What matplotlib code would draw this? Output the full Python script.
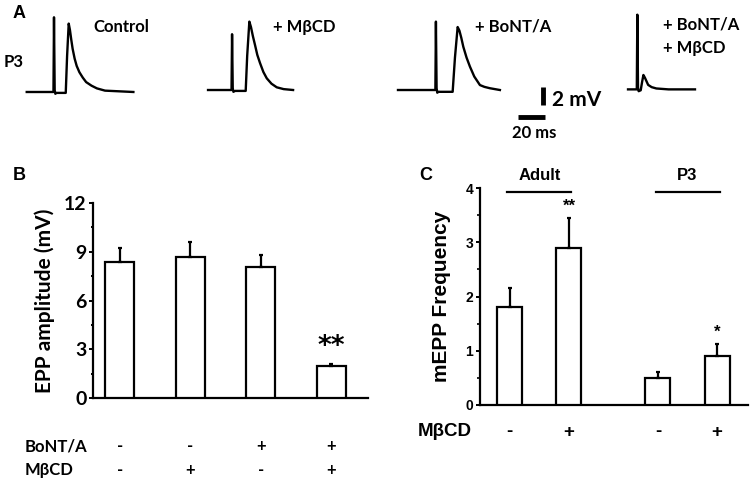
import numpy as np
import matplotlib
matplotlib.use('Agg')
import matplotlib.pyplot as plt
from matplotlib import transforms

# ---- panel A: representative EPP traces (time ms, voltage mV)
trace_names = ['Control', '+ M\u03b2CD', '+ BoNT/A', '+ BoNT/A\n+ M\u03b2CD']
ctrl_t = [0, 19.8, 20.2, 20.7, 21.2, 22, 28.9, 29.9, 31.1, 32, 33, 34, 35.5, 37, 39, 41.5, 44, 48, 52, 58, 79]
ctrl_v = [0, 0, 8.3, 0.2, -0.2, -0.1, -0.1, 4.0, 7.6, 6.9, 5.8, 4.8, 3.7, 2.9, 2.2, 1.6, 1.1, 0.7, 0.4, 0.15, 0]
mbcd_t = [0, 17.4, 17.8, 18.3, 18.8, 20, 27.9, 29.0, 30.6, 31.8, 33.2, 34.8, 36.5, 38.5, 41, 43.5, 47, 50.9, 56, 63]
mbcd_v = [0, 0, 6.2, 0.2, -0.2, -0.1, -0.1, 3.8, 7.6, 7.0, 6.0, 5.0, 3.9, 3.0, 2.0, 1.3, 0.7, 0.3, 0.1, 0]
bont_t = [0, 27.7, 28.1, 28.6, 29.1, 30, 40.5, 42.2, 44.2, 45.5, 46.9, 48.4, 50.8, 53.3, 56.5, 60.7, 64, 68, 75.5]
bont_v = [0, 0, 7.6, 0.2, -0.3, -0.2, -0.2, 3.6, 7.0, 6.6, 5.8, 4.8, 3.6, 2.6, 1.5, 0.55, 0.35, 0.2, 0]
both_t = [0, 6.5, 6.9, 7.4, 7.9, 9.4, 10.4, 11.4, 12.5, 13.7, 14.9, 17.5, 21, 30, 49.6]
both_v = [0, 0, 8.3, 0.2, -0.2, -0.1, 0.8, 1.6, 1.3, 0.9, 0.5, 0.25, 0.1, 0, 0]

# ---- panel B: EPP amplitude
epp_mean = [8.4, 8.7, 8.05, 2.0]
epp_err = [0.85, 0.9, 0.75, 0.12]
bont_signs = ['-', '-', '+', '+']
mbcd_signs_b = ['-', '+', '-', '+']

# ---- panel C: mEPP frequency
groups = ['Adult', 'P3']
freq_mean = [1.8, 2.9, 0.5, 0.9]
freq_err = [0.35, 0.55, 0.11, 0.22]
mbcd_signs_c = ['-', '+', '-', '+']
stars_c = ['', '**', '', '*']

W, H = 750, 482
fig = plt.figure(figsize=(W / 100, H / 100), dpi=100)


def box(l, t, r, b):
    return [l / W, 1 - b / H, (r - l) / W, (b - t) / H]


def fx(x):
    return x / W


def fy(y):
    return 1 - y / H


calib = ['Lato', 'DejaVu Sans']
arial = ['Liberation Sans', 'DejaVu Sans']

# ================= panel A =================
axA = fig.add_axes(box(0, 0, 750, 150))
axA.set_xlim(0, W / 1.35)
axA.set_ylim(-(150 - 91) / 9, 91 / 9)
axA.axis('off')
traces = [(ctrl_t, ctrl_v), (mbcd_t, mbcd_v), (bont_t, bont_v), (both_t, both_v)]
starts = [19.8, 154.1, 294.8, 465.2]
base = [-0.11, 0.11, 0.11, 0.18]
for (t, v), s, b in zip(traces, starts, base):
    axA.plot(np.array(t) + s, np.array(v) + b, color='black', lw=1.7, solid_joinstyle='round')

# scale bar: 2 mV, 20 ms
axA.plot([402.2, 402.2], [0.44, -1.56], color='black', lw=3.5, solid_capstyle='butt')
axA.plot([383.7, 403.7], [-2.89, -2.89], color='black', lw=3.5, solid_capstyle='butt')
fig.text(fx(552), fy(100), '2 mV', fontsize=15, fontweight='bold', family=calib, va='center')
fig.text(fx(534), fy(133), '20 ms', fontsize=12, fontweight='bold', family=calib, ha='center', va='center')

fig.text(fx(13), fy(13), 'A', fontsize=13, fontweight='bold', family=arial, va='center')
fig.text(fx(4), fy(62), 'P3', fontsize=12, fontweight='bold', family=calib, va='center')
label_pos = [(93, 27), (273, 27), (475, 27), (663, 27)]
for name, (x, y) in zip(trace_names, label_pos):
    if '\n' in name:
        fig.text(fx(x), fy(y - 10), name, fontsize=12, fontweight='bold', family=calib,
                 va='top', linespacing=1.55)
    else:
        fig.text(fx(x), fy(y), name, fontsize=12, fontweight='bold', family=calib, va='center')

# ================= panel B =================
axB = fig.add_axes(box(93, 203, 368, 398))
xb = np.arange(1, 5)
axB.bar(xb, epp_mean, width=0.41, color='white', edgecolor='black', linewidth=1.6,
        yerr=[[0] * 4, epp_err], error_kw=dict(ecolor='black', elinewidth=1.6, capsize=1.5, capthick=1.6),
        zorder=3)
axB.set_xlim(0.62, 4.52)
axB.set_ylim(0, 12)
axB.set_yticks([0, 3, 6, 9, 12])
axB.set_yticks([1.5, 4.5, 7.5, 10.5], minor=True)
axB.set_xticks([])
for s in ['top', 'right']:
    axB.spines[s].set_visible(False)
for s in ['left', 'bottom']:
    axB.spines[s].set_linewidth(1.6)
axB.tick_params(axis='y', which='major', length=3, width=1.4, labelsize=14, pad=1.5)
axB.tick_params(axis='y', which='minor', length=1.5, width=1.4)
for lab in axB.get_yticklabels():
    lab.set_fontweight('bold')
    lab.set_family(calib)
axB.set_ylabel('EPP amplitude (mV)', fontsize=15, fontweight='bold', family=calib, labelpad=7)
axB.text(4, 2.35, '**', fontsize=19, fontweight='bold', family='DejaVu Sans', ha='center', va='bottom')

trB = transforms.blended_transform_factory(axB.transData, fig.transFigure)
fig.text(fx(25), fy(446), 'BoNT/A', fontsize=12, fontweight='bold', family=calib, va='center')
fig.text(fx(25), fy(470), 'M\u03b2CD', fontsize=12, fontweight='bold', family=calib, va='center')
for x, s1, s2 in zip(xb, bont_signs, mbcd_signs_b):
    axB.text(x, fy(446), s1, transform=trB, fontsize=12, fontweight='bold', family=calib, ha='center', va='center')
    axB.text(x, fy(470), s2, transform=trB, fontsize=12, fontweight='bold', family=calib, ha='center', va='center')
fig.text(fx(13), fy(175), 'B', fontsize=13, fontweight='bold', family=arial, va='center')

# ================= panel C =================
axC = fig.add_axes(box(480, 188, 748, 405))
xc = np.array([1, 2, 3.5, 4.5])
axC.bar(xc, freq_mean, width=0.42, color='white', edgecolor='black', linewidth=1.6,
        yerr=[[0] * 4, freq_err], error_kw=dict(ecolor='black', elinewidth=1.6, capsize=1.5, capthick=1.6),
        zorder=3)
axC.set_xlim(0.5, 5.02)
axC.set_ylim(0, 4)
axC.set_yticks([0, 1, 2, 3, 4])
axC.set_yticks([0.5, 1.5, 2.5, 3.5], minor=True)
axC.set_xticks([])
for s in ['top', 'right']:
    axC.spines[s].set_visible(False)
for s in ['left', 'bottom']:
    axC.spines[s].set_linewidth(1.6)
axC.tick_params(axis='y', which='major', length=3, width=1.4, labelsize=10, pad=2)
axC.tick_params(axis='y', which='minor', length=2, width=1.2)
for lab in axC.get_yticklabels():
    lab.set_fontweight('bold')
    lab.set_family(arial)
axC.set_ylabel('mEPP Frequency', fontsize=15, fontweight='bold', family=arial, labelpad=10)
for x, m, e, st in zip(xc, freq_mean, freq_err, stars_c):
    if st:
        axC.text(x, m + e + 0.08, st, fontsize=12, fontweight='bold', family=arial, ha='center', va='bottom')

trC = transforms.blended_transform_factory(axC.transData, fig.transFigure)
for (a, b), g in zip([(0.96, 2.04), (3.46, 4.54)], groups):
    axC.plot([a, b], [fy(192), fy(192)], transform=trC, color='black', lw=1.6, clip_on=False)
    axC.text((a + b) / 2, fy(175), g, transform=trC, fontsize=12, fontweight='bold', family=arial,
             ha='center', va='center')
fig.text(fx(418), fy(432), 'M\u03b2CD', fontsize=13.5, fontweight='bold', family=arial, va='center')
for x, s in zip(xc, mbcd_signs_c):
    axC.text(x, fy(432), s, transform=trC, fontsize=13.5, fontweight='bold', family=arial, ha='center', va='center')
fig.text(fx(419), fy(175), 'C', fontsize=13, fontweight='bold', family=arial, va='center')

fig.savefig('out.png', dpi=100)
